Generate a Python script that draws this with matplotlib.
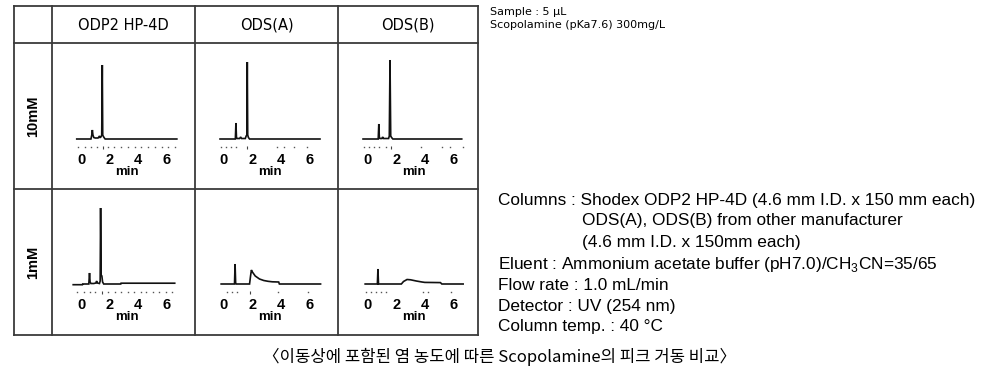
import matplotlib
matplotlib.use("Agg")
import matplotlib.pyplot as plt

plt.rcParams["mathtext.fontset"] = "custom"
plt.rcParams["mathtext.rm"] = "Liberation Sans"

# column / row names
columns = ["ODP2 HP-4D", "ODS(A)", "ODS(B)"]
concs = ["10mM", "1mM"]

# chromatogram traces (time in min, signal in relative units)
t_odp2_10 = [-0.3, 0.7, 0.76, 0.8, 0.84, 0.9, 1.0, 1.2, 1.28, 1.34, 1.4, 1.46, 1.5, 1.53, 1.56, 1.62, 1.7, 6.75]
s_odp2_10 = [0, 0, 4, 9, 4, 1.5, 1, 1, 2.5, 1.5, 2, 4, 74, 4, 3, 1.5, 0, 0]

t_odp2_1 = [-0.55, 0.1, 0.12, 0.55, 0.6, 0.64, 0.7, 0.9, 1.05, 1.1, 1.15, 1.3, 1.35, 1.38, 1.42, 1.47, 1.52, 1.6, 2.8, 2.82, 6.6]
s_odp2_1 = [-0.7, -0.7, 0, 0, 11, 2, 0.5, 0.5, 1, 3, 1, 0.5, 3, 76, 9, 8, 2, 0, 0, 0.8, 0.8]

t_odsa_10 = [-0.28, 0.8, 0.84, 0.88, 0.92, 1.1, 1.17, 1.24, 1.5, 1.56, 1.61, 1.64, 1.67, 1.72, 1.8, 6.76]
s_odsa_10 = [0, 0, 16, 1, 0.5, 0.5, 2, 0.5, 0.5, 3, 4, 77, 4, 1.5, 0, 0]

t_odsa_1 = [-0.2, 0.74, 0.78, 0.82, 0.86, 1.8, 1.87, 1.93, 2.0, 2.2, 2.5, 2.8, 3.1, 3.4, 3.85, 3.9, 6.8]
s_odsa_1 = [0, 0, 20, 1, 0, 0, 8, 14, 12, 8, 5, 3.5, 2.7, 2.2, 2, 0, 0]

t_odsb_10 = [-0.35, 0.72, 0.76, 0.8, 0.85, 0.98, 1.03, 1.1, 1.45, 1.5, 1.55, 1.6, 1.66, 1.75, 6.6]
s_odsb_10 = [0, 0, 15, 1, 0.5, 0.5, 2, 0.5, 0.5, 3, 79, 3, 1.5, 0, 0]

t_odsb_1 = [-0.2, 0.66, 0.7, 0.74, 2.35, 2.5, 2.75, 3.0, 3.4, 3.8, 4.0, 5.1, 5.2, 6.7]
s_odsb_1 = [0, 0, 15, 0, 0, 2.5, 4.5, 4.2, 3, 2, 1.6, 1.4, 0, 0]

# event dots under each trace and the longer mark
dots_odp2_10 = [-0.2, 0.3, 0.7, 1.1, 1.9, 2.3, 2.8, 3.3, 3.8, 4.2, 4.7, 5.2, 5.7, 6.1, 6.6]
dots_odp2_1 = [-0.3, 0.2, 0.6, 1.0, 1.9, 2.4, 2.8, 3.3, 3.7, 4.2, 4.6, 5.1, 5.5, 6.0, 6.4]
dots_odsa_10 = [-0.24, 0.12, 0.48, 0.83, 3.76, 4.2, 4.95, 5.86]
dots_odsa_1 = [0.19, 0.55, 0.95, 3.8, 5.9]
dots_odsb_10 = [-0.3, 0.05, 0.4, 0.76, 1.24, 3.7, 5.2, 5.76, 6.66]
dots_odsb_1 = [-0.14, 0.21, 0.56, 0.92, 1.27, 3.85, 4.2, 5.85]
marks = [[1.55, 1.64, 1.64], [1.45, 1.8, None]]

traces = [[(t_odp2_10, s_odp2_10, dots_odp2_10), (t_odsa_10, s_odsa_10, dots_odsa_10), (t_odsb_10, s_odsb_10, dots_odsb_10)],
          [(t_odp2_1, s_odp2_1, dots_odp2_1), (t_odsa_1, s_odsa_1, dots_odsa_1), (t_odsb_1, s_odsb_1, dots_odsb_1)]]

W, H = 1000, 390
fig = plt.figure(figsize=(W / 100, H / 100), dpi=100)
bg = fig.add_axes([0, 0, 1, 1])
bg.set_xlim(0, W)
bg.set_ylim(H, 0)
bg.axis("off")

# table grid (pixels)
xs = [14, 52, 195, 338, 478]
ys = [6, 43, 189, 335]
lc = "#3a3a3a"
for x in xs:
    bg.plot([x, x], [ys[0], ys[-1]], color=lc, lw=1.3)
for y in ys:
    bg.plot([xs[0], xs[-1]], [y, y], color=lc, lw=1.3)

for j, name in enumerate(columns):
    bg.text((xs[j + 1] + xs[j + 2]) / 2, 25, name, ha="center", va="center",
            fontsize=10.5, family="DejaVu Sans")
for i, c in enumerate(concs):
    bg.text(33, (ys[i + 1] + ys[i + 2]) / 2, c, ha="center", va="center",
            rotation=90, fontsize=10.5, fontweight="bold", family="Liberation Sans")

zero_px = [81, 224, 368]
base_px = [139, 284]
px_per_min = 14.2

for i in range(2):
    for j in range(3):
        t, s, d = traces[i][j]
        x0 = zero_px[j] - 0.6 * px_per_min
        x1 = zero_px[j] + 7.0 * px_per_min
        ytop = base_px[i] - 85
        ybot = base_px[i] + 11
        ax = fig.add_axes([x0 / W, 1 - ybot / H, (x1 - x0) / W, (ybot - ytop) / H])
        ax.set_xlim(-0.6, 7.0)
        ax.set_ylim(-11, 85)
        ax.patch.set_alpha(0)
        for sp in ax.spines.values():
            sp.set_visible(False)
        ax.plot(t, s, color="#111111", lw=1.2, solid_joinstyle="miter")
        ax.plot(d, [-8] * len(d), ls="none", marker="s", ms=1.0, mew=0, color="#555555")
        if marks[i][j] is not None:
            ax.vlines(marks[i][j], -9.5, -6.5, color="#444444", lw=0.8)
        ax.set_yticks([])
        ax.set_xticks([0, 2, 4, 6])
        ax.tick_params(axis="x", length=0, pad=2.5, labelsize=10.5)
        for lb in ax.get_xticklabels():
            lb.set_fontweight("bold")
            lb.set_family("Liberation Sans")
        ax.set_xlabel("min", fontsize=9.5, fontweight="bold", family="Liberation Sans", labelpad=-1)

# sample info
bg.text(490, 12, "Sample : 5 \u03bcL", fontsize=8, va="center", family="DejaVu Sans")
bg.text(490, 25, "Scopolamine (pKa7.6) 300mg/L", fontsize=8, va="center", family="DejaVu Sans")

# conditions
cond = [
    (498, 200, "Columns : Shodex ODP2 HP-4D (4.6 mm I.D. x 150 mm each)"),
    (582, 221, "ODS(A), ODS(B) from other manufacturer"),
    (582, 243, "(4.6 mm I.D. x 150mm each)"),
    (498, 264, "Eluent : Ammonium acetate buffer (pH7.0)/CH$_3$CN=35/65"),
    (498, 285, "Flow rate : 1.0 mL/min"),
    (498, 306, "Detector : UV (254 nm)"),
    (498, 327, "Column temp. : 40 \u00b0C"),
]
for x, y, txt in cond:
    bg.text(x, y, txt, fontsize=12.4, va="center", family="Liberation Sans")

bg.text(500, 357, "\u3008이동상에 포함된 염 농도에 따른 Scopolamine의 피크 거동 비교\u3009",
        ha="center", va="center", fontsize=12, fontweight="medium",
        family=["Noto Sans CJK KR", "DejaVu Sans"])

fig.savefig("out.png", dpi=100)
